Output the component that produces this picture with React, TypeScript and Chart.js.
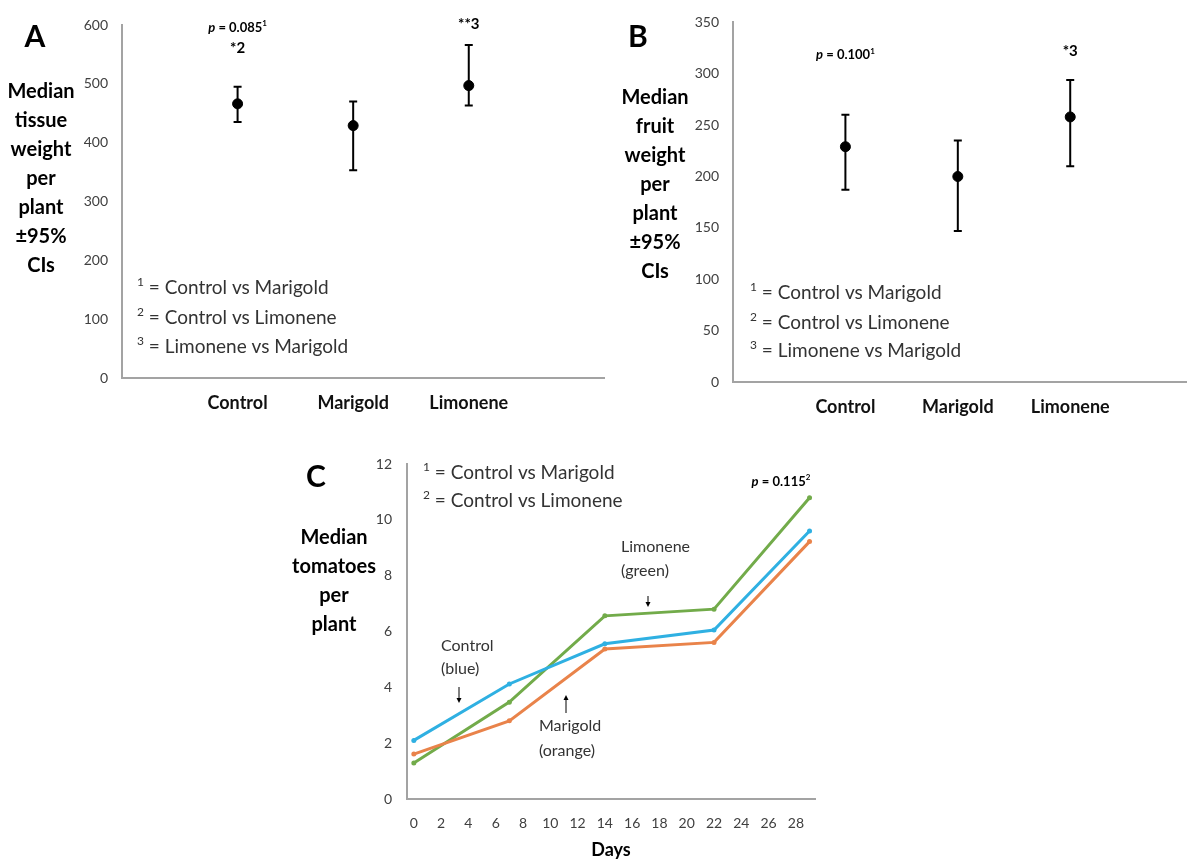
import React, { useEffect, useRef } from 'react';
import { Chart, registerables } from 'chart.js';

Chart.register(...registerables);

const FONT = 'Lato, "Open Sans", sans-serif';

// ---------- data ----------
const groups = ['Control', 'Marigold', 'Limonene'];
const groupPositions = [1, 2, 3];

const tissueMedian = [466, 429, 497];
const tissueLower = [435, 353, 463];
const tissueUpper = [495, 470, 566];
const tissueTicks = [0, 100, 200, 300, 400, 500, 600];

const fruitMedian = [229, 200, 258];
const fruitLower = [187, 147, 210];
const fruitUpper = [260, 235, 294];
const fruitTicks = [0, 50, 100, 150, 200, 250, 300, 350];

const days = [0, 7, 14, 22, 29];
const dayTicks = [0, 2, 4, 6, 8, 10, 12, 14, 16, 18, 20, 22, 24, 26, 28];
const tomatoTicks = [0, 2, 4, 6, 8, 10, 12];
const controlTomatoes = [2.1, 4.12, 5.56, 6.05, 9.6];
const marigoldTomatoes = [1.61, 2.8, 5.37, 5.61, 9.22];
const limoneneTomatoes = [1.29, 3.47, 6.56, 6.8, 10.79];

const tissueTitle = ['Median', 'tissue', 'weight', 'per', 'plant', '±95%', 'CIs'];
const fruitTitle = ['Median', 'fruit', 'weight', 'per', 'plant', '±95%', 'CIs'];
const tomatoTitle = ['Median', 'tomatoes', 'per', 'plant'];
const footnotes = ['Control vs Marigold', 'Control vs Limonene', 'Limonene vs Marigold'];

const COLORS = { control: '#2fb0e2', marigold: '#e9834a', limonene: '#72ab4a' };

// ---------- helpers ----------
type Part = { t: string; size: number; bold?: boolean; italic?: boolean; sup?: boolean };
type TextItem = {
  x: number;
  y: number;
  data?: boolean;
  align?: 'left' | 'center';
  color?: string;
  parts: Part[];
};
type Arrow = { x: number; from: number; to: number };

function fontOf(p: Part) {
  const size = p.sup ? Math.round(p.size * 0.62) : p.size;
  return `${p.italic ? 'italic ' : ''}${p.bold ? 'bold ' : ''}${size}px ${FONT}`;
}

function drawRich(ctx: CanvasRenderingContext2D, item: TextItem, x: number, y: number) {
  ctx.save();
  ctx.textBaseline = 'middle';
  ctx.textAlign = 'left';
  ctx.fillStyle = item.color || '#000';
  const widths = item.parts.map((p) => {
    ctx.font = fontOf(p);
    return ctx.measureText(p.t).width;
  });
  const total = widths.reduce((a, b) => a + b, 0);
  let cx = item.align === 'left' ? x : x - total / 2;
  item.parts.forEach((p, i) => {
    ctx.font = fontOf(p);
    ctx.fillText(p.t, cx, p.sup ? y - p.size * 0.33 : y);
    cx += widths[i];
  });
  ctx.restore();
}

function overlayPlugin(texts: TextItem[], arrows: Arrow[] = []) {
  return {
    id: 'overlayTexts',
    afterDraw(chart: any) {
      const { ctx } = chart;
      const xs = chart.scales.x;
      const ys = chart.scales.y;
      texts.forEach((it) => {
        const px = it.data ? xs.getPixelForValue(it.x) : it.x;
        const py = it.data ? ys.getPixelForValue(it.y) : it.y;
        drawRich(ctx, it, px, py);
      });
      arrows.forEach((a) => {
        ctx.save();
        ctx.strokeStyle = '#000';
        ctx.fillStyle = '#000';
        ctx.lineWidth = 1;
        const dir = a.to > a.from ? 1 : -1;
        ctx.beginPath();
        ctx.moveTo(a.x, a.from);
        ctx.lineTo(a.x, a.to - dir * 4);
        ctx.stroke();
        ctx.beginPath();
        ctx.moveTo(a.x, a.to);
        ctx.lineTo(a.x - 2.5, a.to - dir * 5);
        ctx.lineTo(a.x + 2.5, a.to - dir * 5);
        ctx.closePath();
        ctx.fill();
        ctx.restore();
      });
    },
  };
}

function errorBarPlugin(lower: number[], upper: number[]) {
  return {
    id: 'errorBars',
    beforeDatasetsDraw(chart: any) {
      const { ctx } = chart;
      const xs = chart.scales.x;
      const ys = chart.scales.y;
      ctx.save();
      ctx.strokeStyle = '#000';
      ctx.lineWidth = 2;
      lower.forEach((lo, i) => {
        const px = xs.getPixelForValue(groupPositions[i]);
        const y1 = ys.getPixelForValue(lo);
        const y2 = ys.getPixelForValue(upper[i]);
        ctx.beginPath();
        ctx.moveTo(px, y1);
        ctx.lineTo(px, y2);
        ctx.moveTo(px - 4, y1);
        ctx.lineTo(px + 4, y1);
        ctx.moveTo(px - 4, y2);
        ctx.lineTo(px + 4, y2);
        ctx.stroke();
      });
      ctx.restore();
    },
  };
}

const titleItems = (lines: string[], x: number, y0: number, step: number): TextItem[] =>
  lines.map((l, i) => ({ x, y: y0 + i * step, parts: [{ t: l, size: 20, bold: true }], color: '#000' }));

const footnoteItems = (n: number, x: number, ys: number[]): TextItem[] =>
  footnotes.slice(0, n).map((f, i) => ({
    x,
    y: ys[i],
    align: 'left',
    color: '#333',
    parts: [
      { t: String(i + 1), size: 19, sup: true },
      { t: ' = ' + f, size: 19 },
    ],
  }));

const axisBorder = { display: true, color: '#a3a3a3', width: 2 };

function errorChart(
  canvas: HTMLCanvasElement,
  median: number[],
  lower: number[],
  upper: number[],
  ticks: number[],
  xMax: number,
  pad: { top: number; right: number },
  yWidth: number,
  xHeight: number,
  texts: TextItem[]
) {
  return new Chart(canvas, {
    type: 'scatter',
    data: {
      datasets: [
        {
          data: groupPositions.map((p, i) => ({ x: p, y: median[i] })),
          pointRadius: 5,
          pointHoverRadius: 5,
          pointBackgroundColor: '#000',
          pointBorderColor: '#000',
        },
      ],
    },
    options: {
      responsive: false,
      animation: false,
      devicePixelRatio: 1,
      layout: { padding: { left: 0, right: pad.right, top: pad.top, bottom: 0 } },
      plugins: { legend: { display: false }, tooltip: { enabled: false } },
      scales: {
        x: {
          type: 'linear',
          min: 0,
          max: xMax,
          afterBuildTicks: (s: any) => {
            s.ticks = groupPositions.map((v) => ({ value: v }));
          },
          afterFit: (s: any) => {
            s.height = xHeight;
          },
          ticks: {
            callback: (_v: any, i: number) => groups[i],
            font: { family: FONT, size: 18, weight: 'bold' },
            color: '#111',
            padding: 14,
            maxRotation: 0,
            autoSkip: false,
          },
          grid: { display: false, drawTicks: false },
          border: axisBorder,
        },
        y: {
          min: 0,
          max: ticks[ticks.length - 1],
          afterBuildTicks: (s: any) => {
            s.ticks = ticks.map((v) => ({ value: v }));
          },
          afterFit: (s: any) => {
            s.width = yWidth;
          },
          ticks: { font: { family: FONT, size: 14 }, color: '#404040', padding: 14 },
          grid: { display: false, drawTicks: false },
          border: axisBorder,
        },
      },
    } as any,
    plugins: [errorBarPlugin(lower, upper), overlayPlugin(texts)],
  });
}

export default function App() {
  const refA = useRef<HTMLCanvasElement>(null);
  const refB = useRef<HTMLCanvasElement>(null);
  const refC = useRef<HTMLCanvasElement>(null);

  useEffect(() => {
    const textsA: TextItem[] = [
      { x: 35, y: 37, parts: [{ t: 'A', size: 30, bold: true }] },
      ...titleItems(tissueTitle, 41, 92, 29),
      {
        x: 1,
        y: 596,
        data: true,
        parts: [
          { t: 'p', size: 13, bold: true, italic: true },
          { t: ' = 0.085', size: 13, bold: true },
          { t: '1', size: 13, bold: true, sup: true },
        ],
      },
      { x: 1, y: 561, data: true, parts: [{ t: '*2', size: 15, bold: true }] },
      { x: 3, y: 601, data: true, parts: [{ t: '**3', size: 15, bold: true }] },
      ...footnoteItems(3, 137, [288, 318, 347]),
    ];
    const textsB: TextItem[] = [
      { x: 28, y: 37, parts: [{ t: 'B', size: 30, bold: true }] },
      ...titleItems(fruitTitle, 45, 98, 29),
      {
        x: 1,
        y: 318,
        data: true,
        parts: [
          { t: 'p', size: 13, bold: true, italic: true },
          { t: ' = 0.100', size: 13, bold: true },
          { t: '1', size: 13, bold: true, sup: true },
        ],
      },
      { x: 3, y: 322, data: true, parts: [{ t: '*3', size: 15, bold: true }] },
      ...footnoteItems(3, 140, [293, 323, 351]),
    ];
    const lab = (t: string, x: number, y: number): TextItem => ({
      x,
      y,
      align: 'left',
      color: '#333',
      parts: [{ t, size: 16 }],
    });
    const textsC: TextItem[] = [
      { x: 46, y: 47, parts: [{ t: 'C', size: 30, bold: true }] },
      ...titleItems(tomatoTitle, 64, 108, 29),
      ...footnoteItems(2, 153, [43, 71]),
      {
        x: 511,
        y: 52,
        parts: [
          { t: 'p', size: 13, bold: true, italic: true },
          { t: ' = 0.115', size: 13, bold: true },
          { t: '2', size: 13, bold: true, sup: true },
        ],
      },
      lab('Limonene', 351, 117),
      lab('(green)', 351, 141),
      lab('Control', 171, 216),
      lab('(blue)', 171, 239),
      lab('Marigold', 269, 296),
      lab('(orange)', 269, 321),
      { x: 341, y: 420, parts: [{ t: 'Days', size: 18, bold: true }] },
    ];
    const arrowsC: Arrow[] = [
      { x: 378, from: 166, to: 177 },
      { x: 189, from: 257, to: 273 },
      { x: 296, from: 283, to: 265 },
    ];

    const chartA = errorChart(
      refA.current!,
      tissueMedian,
      tissueLower,
      tissueUpper,
      tissueTicks,
      4.17,
      { top: 25, right: 2 },
      122,
      42,
      textsA
    );
    const chartB = errorChart(
      refB.current!,
      fruitMedian,
      fruitLower,
      fruitUpper,
      fruitTicks,
      4.03,
      { top: 17, right: 0 },
      123,
      38,
      textsB
    );

    const series = [
      { data: controlTomatoes, color: COLORS.control },
      { data: marigoldTomatoes, color: COLORS.marigold },
      { data: limoneneTomatoes, color: COLORS.limonene },
    ];
    const chartC = new Chart(refC.current!, {
      type: 'scatter',
      data: {
        datasets: series.map((s) => ({
          data: days.map((d, i) => ({ x: d, y: s.data[i] })),
          showLine: true,
          borderColor: s.color,
          backgroundColor: s.color,
          borderWidth: 3,
          pointRadius: 2.5,
          pointHoverRadius: 2.5,
          pointBorderWidth: 0,
          pointBackgroundColor: s.color,
        })),
      },
      options: {
        responsive: false,
        animation: false,
        devicePixelRatio: 1,
        layout: { padding: { left: 0, right: 15, top: 34, bottom: 0 } },
        plugins: { legend: { display: false }, tooltip: { enabled: false } },
        scales: {
          x: {
            type: 'linear',
            min: -0.5,
            max: 29.4,
            afterBuildTicks: (s: any) => {
              s.ticks = dayTicks.map((v) => ({ value: v }));
            },
            afterFit: (s: any) => {
              s.height = 62;
            },
            ticks: {
              font: { family: FONT, size: 14 },
              color: '#404040',
              padding: 16,
              maxRotation: 0,
              autoSkip: false,
            },
            grid: { display: false, drawTicks: false },
            border: axisBorder,
          },
          y: {
            min: 0,
            max: 12,
            afterBuildTicks: (s: any) => {
              s.ticks = tomatoTicks.map((v) => ({ value: v }));
            },
            afterFit: (s: any) => {
              s.width = 137;
            },
            ticks: { font: { family: FONT, size: 14 }, color: '#404040', padding: 15 },
            grid: { display: false, drawTicks: false },
            border: axisBorder,
          },
        },
      } as any,
      plugins: [overlayPlugin(textsC, arrowsC)],
    });

    return () => {
      chartA.destroy();
      chartB.destroy();
      chartC.destroy();
    };
  }, []);

  return (
    <div
      style={{
        position: 'absolute',
        left: 0,
        top: 0,
        width: 1192,
        height: 861,
        background: '#fff',
        overflow: 'hidden',
      }}
    >
      <canvas ref={refA} width={610} height={420} style={{ position: 'absolute', left: 0, top: 0 }} />
      <canvas ref={refB} width={582} height={420} style={{ position: 'absolute', left: 610, top: 0 }} />
      <canvas ref={refC} width={560} height={431} style={{ position: 'absolute', left: 270, top: 430 }} />
    </div>
  );
}
